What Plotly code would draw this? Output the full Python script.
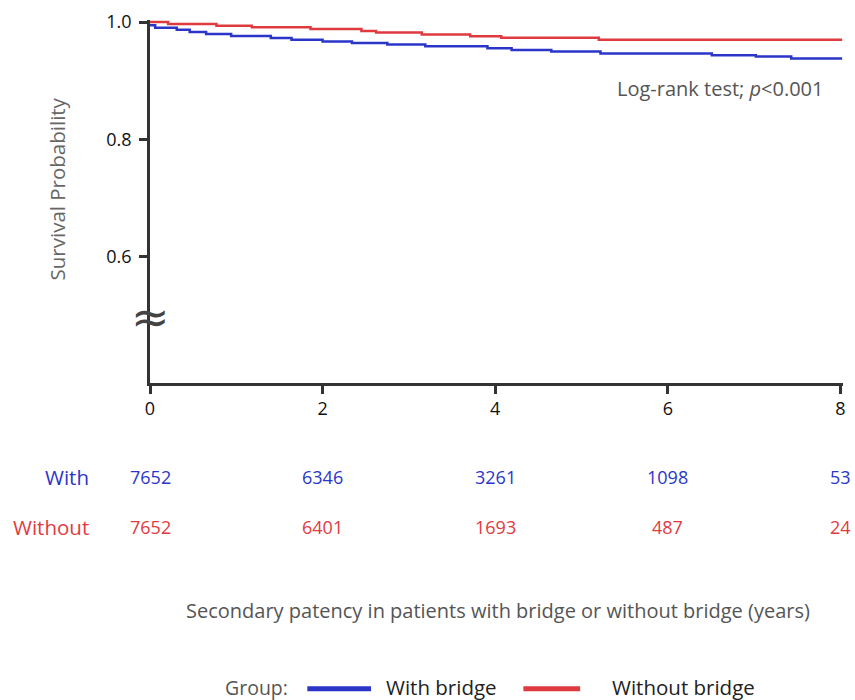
import plotly.graph_objects as go

# Kaplan-Meier step data (years, survival probability)
with_t = [0, 0.06, 0.31, 0.46, 0.65, 0.94, 1.40, 1.64, 2.00, 2.34, 2.75, 3.19,
          3.91, 4.19, 4.65, 5.22, 6.51, 7.02, 7.43, 8.02]
with_s = [0.9944, 0.9904, 0.987, 0.983, 0.9797, 0.9763, 0.973, 0.970, 0.967,
          0.9644, 0.9616, 0.9588, 0.9554, 0.9525, 0.9497, 0.9463, 0.9435,
          0.9413, 0.938, 0.938]

without_t = [0, 0.21, 0.77, 1.18, 1.86, 2.45, 2.62, 3.15, 3.71, 4.07, 5.20, 8.02]
without_s = [1.0, 0.9966, 0.9937, 0.991, 0.988, 0.9847, 0.982, 0.979, 0.976,
             0.9734, 0.970, 0.970]

# Number at risk
risk_times = [0, 2, 4, 6, 8]
risk_with = [7652, 6346, 3261, 1098, 53]
risk_without = [7652, 6401, 1693, 487, 24]

x_ticks = [0, 2, 4, 6, 8]
y_ticks = [0.6, 0.8, 1.0]
y_tick_labels = ["0.6", "0.8", "1.0"]

group_names = ["With bridge", "Without bridge"]

BLUE = "#2b36c9"
RED = "#df3b3f"
FONT = "Open Sans"
AXIS = "#333333"
GREY = "#555555"

fig = go.Figure()
fig.add_trace(go.Scatter(x=with_t, y=with_s, mode="lines", name=group_names[0],
                         line=dict(color=BLUE, width=2.5, shape="hv")))
fig.add_trace(go.Scatter(x=without_t, y=without_s, mode="lines", name=group_names[1],
                         line=dict(color=RED, width=2.5, shape="hv")))

# plot area spans pixel 18..383 vertically, 150..846 horizontally
TOP, BOT = 18, 383
def py(px):
    return (BOT - px) / (BOT - TOP)
def pxx(px):
    return (px - 150) / 696

ann = []
for t, v in zip(risk_times, risk_with):
    ann.append(dict(x=t, xref="x", y=py(478), yref="paper", text=str(v),
                    showarrow=False, font=dict(color=BLUE, size=18, family=FONT),
                    xanchor="center", yanchor="middle"))
for t, v in zip(risk_times, risk_without):
    ann.append(dict(x=t, xref="x", y=py(528), yref="paper", text=str(v),
                    showarrow=False, font=dict(color=RED, size=18, family=FONT),
                    xanchor="center", yanchor="middle"))
ann.append(dict(x=pxx(91), xref="paper", y=py(478), yref="paper", text="With",
                showarrow=False, font=dict(color=BLUE, size=20.5, family=FONT),
                xanchor="right", yanchor="middle"))
ann.append(dict(x=pxx(91), xref="paper", y=py(528), yref="paper", text="Without",
                showarrow=False, font=dict(color=RED, size=20.5, family=FONT),
                xanchor="right", yanchor="middle"))
ann.append(dict(x=pxx(500), xref="paper", y=py(612), yref="paper",
                text="Secondary patency in patients with bridge or without bridge (years)",
                showarrow=False, font=dict(color=GREY, size=20, family=FONT),
                xanchor="center", yanchor="middle"))
ann.append(dict(x=pxx(57), xref="paper", y=py(188), yref="paper",
                text="Survival Probability", textangle=-90,
                showarrow=False, font=dict(color="#666666", size=20.5, family=FONT),
                xanchor="center", yanchor="middle"))
ann.append(dict(x=pxx(829), xref="paper", y=py(87), yref="paper",
                text="Log-rank test; <i>p</i><0.001",
                showarrow=False, font=dict(color=GREY, size=20, family=FONT),
                xanchor="right", yanchor="middle"))
ann.append(dict(x=0, xref="paper", y=py(317), yref="paper", text="≈",
                showarrow=False, font=dict(color="#444444", size=46, family="DejaVu Sans"),
                xanchor="center", yanchor="middle"))

# legend drawn as a row under the chart
LEG_Y = py(689)
ann.append(dict(x=pxx(291), xref="paper", y=LEG_Y, yref="paper", text="Group:",
                showarrow=False, font=dict(color=GREY, size=19.5, family=FONT),
                xanchor="right", yanchor="middle"))
ann.append(dict(x=pxx(385), xref="paper", y=LEG_Y, yref="paper", text=group_names[0],
                showarrow=False, font=dict(color="#222222", size=20.5, family=FONT),
                xanchor="left", yanchor="middle"))
ann.append(dict(x=pxx(612), xref="paper", y=LEG_Y, yref="paper", text=group_names[1],
                showarrow=False, font=dict(color="#222222", size=20.5, family=FONT),
                xanchor="left", yanchor="middle"))
shapes = [
    dict(type="line", xref="paper", yref="paper", x0=pxx(308), x1=pxx(372),
         y0=LEG_Y - 0.004, y1=LEG_Y - 0.004, line=dict(color=BLUE, width=5)),
    dict(type="line", xref="paper", yref="paper", x0=pxx(525), x1=pxx(582),
         y0=LEG_Y - 0.004, y1=LEG_Y - 0.004, line=dict(color=RED, width=5)),
]

fig.update_layout(
    width=855, height=700,
    margin=dict(l=150, r=9, t=TOP, b=700 - BOT),
    paper_bgcolor="white", plot_bgcolor="white",
    font=dict(family=FONT, color="#222222"),
    xaxis=dict(range=[0, 8.03], tickvals=x_ticks, ticktext=[str(v) for v in x_ticks],
               showgrid=False, zeroline=False, showline=True, linecolor=AXIS,
               linewidth=2.5, ticks="outside", ticklen=8, tickwidth=2.5,
               tickcolor=AXIS, tickfont=dict(size=18, color="#111111")),
    yaxis=dict(range=[0.385, 1.0035], tickvals=y_ticks, ticktext=y_tick_labels,
               showgrid=False, zeroline=False, showline=True, linecolor=AXIS,
               linewidth=2.5, ticks="outside", ticklen=8, tickwidth=2.5,
               tickcolor=AXIS, tickfont=dict(size=18, color="#111111"),
               ticklabelstandoff=4),
    showlegend=False,
    annotations=ann,
    shapes=shapes,
)

fig.write_html("out.html", config={"displayModeBar": False},
               post_script="document.body.style.margin='0';")
